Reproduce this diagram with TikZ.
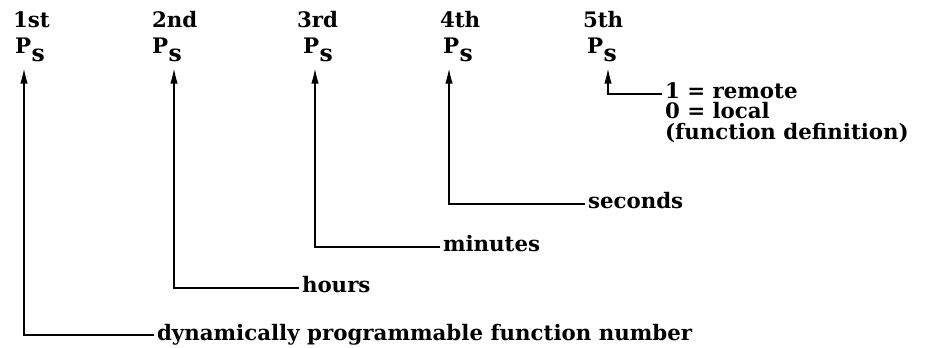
\documentclass[tikz,border=0pt]{standalone}
\usepackage{fontspec}
\setmainfont{DejaVu Serif}
\usetikzlibrary{arrows.meta}
% parameter symbol: P with a lowered s
\newcommand{\Psub}{P\kern0.5pt\raisebox{-6pt}{\scalebox{1.1}{s}}}
\begin{document}
\begin{tikzpicture}[x=0.75pt,y=-0.75pt,
  every node/.style={inner sep=0pt,outer sep=0pt,font=\fontsize{16pt}{16pt}\selectfont\bfseries},
  ord/.style={anchor=base west},
  param/.style={anchor=base west},
  lbl/.style={anchor=base west},
  lead/.style={line width=2.1pt,-{Latex[length=14pt,width=5.5pt]}}]
\useasboundingbox (0,0) rectangle (937,348);

% ordinal headings
\node[ord] (o1) at (13,28)  {1st};
\node[ord] (o2) at (152,28) {2nd};
\node[ord] (o3) at (297,28) {3rd};
\node[ord] (o4) at (440,28) {4th};
\node[ord] (o5) at (583,28) {5th};

% parameter symbols
\node[param] (p1) at (15,54)  {\Psub};
\node[param] (p2) at (152,54) {\Psub};
\node[param] (p3) at (303,54) {\Psub};
\node[param] (p4) at (443,54) {\Psub};
\node[param] (p5) at (587,54) {\Psub};

% arrow tips under each parameter
\coordinate (t1) at (24,65);
\coordinate (t2) at (174,65);
\coordinate (t3) at (315,65);
\coordinate (t4) at (449,65);
\coordinate (t5) at (608,65);

% meanings
\node[lbl] (d1) at (157,340) {dynamically programmable function number};
\node[lbl] (d2) at (302,293) {hours};
\node[lbl] (d3) at (443,252) {minutes};
\node[lbl] (d4) at (588,209) {seconds};
\node[lbl] (d5) at (665,99)  {1 = remote};
\node[lbl] (d6) at (665,119) {0 = local};
\node[lbl] (d7) at (665,140) {(function definition)};

% leader lines
\foreach \d/\t in {d1/t1,d2/t2,d3/t3,d4/t4,d5/t5}
  \draw[lead] ([xshift=-2pt,yshift=3.75pt]\d.base west) -| (\t);
\end{tikzpicture}
\end{document}
